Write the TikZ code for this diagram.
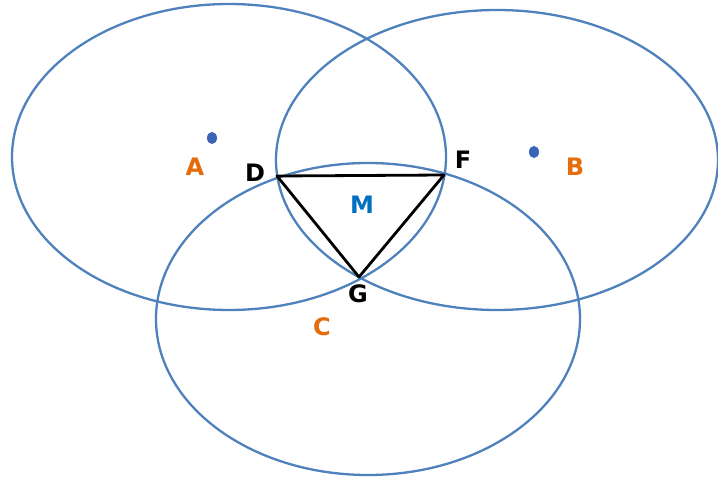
\documentclass[tikz,border=0pt]{standalone}
\usepackage{fontspec}
\setmainfont{DejaVu Sans}
\definecolor{ringblue}{RGB}{79,129,189}
\definecolor{dotblue}{RGB}{60,100,180}
\definecolor{lblorange}{RGB}{228,108,10}
\definecolor{lblblue}{RGB}{0,112,192}
\begin{document}
\begin{tikzpicture}[x=1pt,y=-1pt,
  ring/.style={draw=ringblue,line width=2.3pt},
  tri/.style={draw=black,line width=2.8pt,line join=round},
  ptlbl/.style={font=\bfseries\fontsize{24}{28}\selectfont,text=black,inner sep=0pt},
  ctrlbl/.style={font=\bfseries\fontsize{24}{28}\selectfont,text=lblorange,inner sep=0pt},
  dot/.style={fill=dotblue}]
\useasboundingbox[fill=white] (0,0) rectangle (718,481);
% circles
\draw[ring] (229,157) ellipse [x radius=217,y radius=153];
\draw[ring] (497,160) ellipse [x radius=221,y radius=150];
\draw[ring] (368,319) ellipse [x radius=212,y radius=156];
% centre dots
\fill[dot] (212,138) ellipse [x radius=5,y radius=6];
\fill[dot] (534,152) ellipse [x radius=5,y radius=6];
% intersection points
\coordinate (D) at (277,176);
\coordinate (F) at (444,175);
\coordinate (G) at (359,277);
\draw[tri] (D) -- (F) -- (G) -- cycle;
% labels
\node[ctrlbl] (lA) at (195,167) {A};
\node[ctrlbl] (lB) at (575,167) {B};
\node[ctrlbl] (lC) at (322,327) {C};
\node[ptlbl] (lD) at (255,173) {D};
\node[ptlbl] (lF) at (463,160) {F};
\node[ptlbl] (lG) at (358,294) {G};
\node[ptlbl,text=lblblue] (lM) at (362,205) {M};
\end{tikzpicture}
\end{document}
